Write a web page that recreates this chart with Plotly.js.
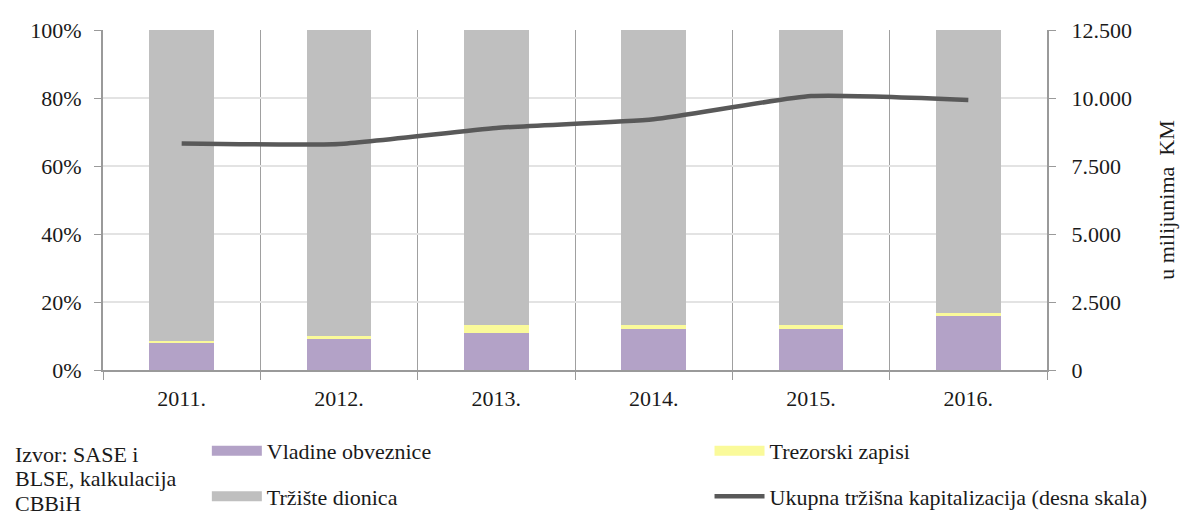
<!DOCTYPE html>
<html>
<head>
<meta charset="utf-8">
<script src="https://cdn.plot.ly/plotly-3.0.1.min.js"></script>
<style>html,body{margin:0;padding:0;background:#fff}#chart{width:1190px;height:522px}</style>
</head>
<body>
<div id="chart"></div>
<script>
const years = ['2011.', '2012.', '2013.', '2014.', '2015.', '2016.'];
const vladineObveznice = [7.8, 9.1, 11.0, 12.1, 12.1, 16.0];
const trezorskiZapisi = [0.8, 0.9, 2.1, 1.1, 1.1, 0.8];
const trzisteDionica = [91.4, 90.0, 86.9, 86.8, 86.8, 83.2];
const ukupnaKapitalizacija = [8330, 8310, 8900, 9220, 10070, 9930];
const izvorLines = ['Izvor: SASE i', 'BLSE, kalkulacija', 'CBBiH'];

const FONT = "'Liberation Serif', 'Times New Roman', serif";
const FS = 22;
const TXT = '#1a1a1a';
const C_PURPLE = '#b3a2c7';
const C_YELLOW = '#fafa9a';
const C_GREY = '#bfbfbf';
const C_LINE = '#595959';
const C_AXIS = '#9a9a9a';

const traces = [
  {type: 'bar', x: years, y: vladineObveznice, marker: {color: C_PURPLE}, name: 'Vladine obveznice', showlegend: false},
  {type: 'bar', x: years, y: trezorskiZapisi, marker: {color: C_YELLOW}, name: 'Trezorski zapisi', showlegend: false},
  {type: 'bar', x: years, y: trzisteDionica, marker: {color: C_GREY}, name: 'Tržište dionica', showlegend: false},
  {type: 'scatter', mode: 'lines', x: years, y: ukupnaKapitalizacija, yaxis: 'y2',
   line: {color: C_LINE, width: 4.5, shape: 'spline', smoothing: 0.5},
   name: 'Ukupna tržišna kapitalizacija (desna skala)', showlegend: false},
  // legend entries
  {type: 'scatter', mode: 'lines', x: [null], y: [null], line: {color: C_PURPLE, width: 14}, name: 'Vladine obveznice', legend: 'legend', legendgroup: 'a'},
  {type: 'scatter', mode: 'lines', x: [null], y: [null], line: {color: C_GREY, width: 14}, name: 'Tržište dionica', legend: 'legend', legendgroup: 'b'},
  {type: 'scatter', mode: 'lines', x: [null], y: [null], line: {color: C_YELLOW, width: 14}, name: 'Trezorski zapisi', legend: 'legend2', legendgroup: 'c'},
  {type: 'scatter', mode: 'lines', x: [null], y: [null], line: {color: C_LINE, width: 4.5}, name: 'Ukupna tržišna kapitalizacija (desna skala)', legend: 'legend2', legendgroup: 'd'}
];

const legendBase = {
  orientation: 'v', xanchor: 'left', yanchor: 'top', y: -0.176,
  font: {family: FONT, size: FS, color: TXT},
  tracegroupgap: 14, itemwidth: 50, bgcolor: 'rgba(0,0,0,0)'
};

const annotations = izvorLines.map((t, i) => ({
  xref: 'paper', yref: 'paper', x: -0.095, y: -(454 + i * 24.5 - 370) / 340,
  xanchor: 'left', yanchor: 'middle', align: 'left', showarrow: false,
  text: t, font: {family: FONT, size: FS, color: TXT}
}));

const layout = {
  width: 1190, height: 522,
  margin: {l: 103, r: 143, t: 30, b: 152, autoexpand: false},
  paper_bgcolor: '#fff', plot_bgcolor: '#fff',
  separators: ',.',
  barmode: 'stack', bargap: 0.59,
  font: {family: FONT, size: FS, color: TXT},
  xaxis: {
    type: 'category', tickson: 'boundaries', ticks: 'outside', ticklen: 8, tickcolor: C_AXIS,
    showgrid: true, gridcolor: '#a0a0a0', gridwidth: 1,
    showline: true, linecolor: C_AXIS, linewidth: 2, ticklabelstandoff: 8,
    tickfont: {family: FONT, size: FS, color: TXT}, fixedrange: true
  },
  yaxis: {
    range: [0, 100], dtick: 20, ticksuffix: '%', ticks: 'outside', ticklen: 7, tickcolor: C_AXIS,
    showgrid: true, gridcolor: '#e3e3e3', gridwidth: 1.5, zeroline: false,
    showline: true, linecolor: C_AXIS, linewidth: 2, ticklabelstandoff: 8,
    tickfont: {family: FONT, size: FS, color: TXT}
  },
  yaxis2: {
    overlaying: 'y', side: 'right', range: [0, 12500], dtick: 2500, tickformat: ',d',
    ticks: 'outside', ticklen: 7, tickcolor: C_AXIS, showgrid: false, zeroline: false,
    showline: true, linecolor: C_AXIS, linewidth: 2, ticklabelstandoff: 11,
    tickfont: {family: FONT, size: FS, color: TXT},
    title: {text: 'u milijunima  KM', standoff: 28, font: {family: FONT, size: FS, color: TXT}}
  },
  legend: Object.assign({}, legendBase, {x: 0.110}),
  legend2: Object.assign({}, legendBase, {x: 0.6425}),
  annotations: annotations
};

Plotly.newPlot('chart', traces, layout, {displayModeBar: false, staticPlot: true});
</script>
</body>
</html>
